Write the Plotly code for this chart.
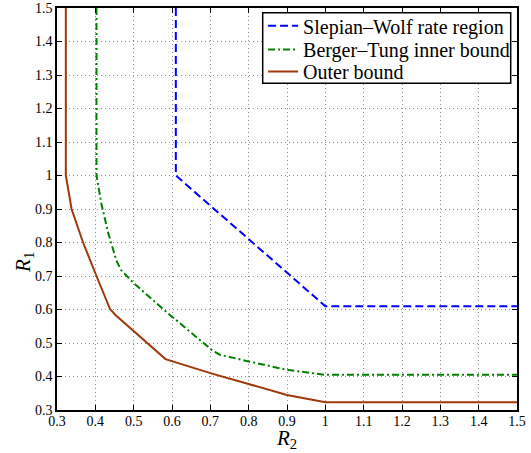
import plotly.graph_objects as go

# Slepian-Wolf rate region
sw_r2 = [0.61, 0.61, 1.0, 1.5]
sw_r1 = [1.5, 1.0, 0.61, 0.61]

# Berger-Tung inner bound
bt_r2 = [0.403, 0.403, 0.416, 0.433, 0.455, 0.467, 0.498, 0.581, 0.705, 0.725, 0.8, 0.9, 1.0, 1.5]
bt_r1 = [1.5, 1.0, 0.915, 0.831, 0.746, 0.718, 0.681, 0.597, 0.478, 0.465, 0.445, 0.42, 0.405, 0.405]

# Outer bound
ob_r2 = [0.323, 0.323, 0.338, 0.368, 0.403, 0.438, 0.451, 0.583, 0.7, 0.8, 0.9, 1.0, 1.5]
ob_r1 = [1.5, 1.0, 0.90, 0.80, 0.70, 0.602, 0.585, 0.452, 0.410, 0.377, 0.345, 0.323, 0.323]

series_names = ["Slepian\u2013Wolf rate region", "Berger\u2013Tung inner bound", "Outer bound"]

tick_vals = [0.3, 0.4, 0.5, 0.6, 0.7, 0.8, 0.9, 1.0, 1.1, 1.2, 1.3, 1.4, 1.5]
tick_text = ["0.3", "0.4", "0.5", "0.6", "0.7", "0.8", "0.9", "1", "1.1", "1.2", "1.3", "1.4", "1.5"]

FONT = "Liberation Serif"

fig = go.Figure()
fig.add_trace(go.Scatter(x=sw_r2, y=sw_r1, mode="lines", name=series_names[0], legend="legend",
                         line=dict(color="#0000ff", width=2, dash="8px,4px")))
fig.add_trace(go.Scatter(x=bt_r2, y=bt_r1, mode="lines", name=series_names[1], legend="legend2",
                         line=dict(color="#008000", width=2, dash="7px,3px,2px,3px")))
fig.add_trace(go.Scatter(x=ob_r2, y=ob_r1, mode="lines", name=series_names[2], legend="legend3",
                         line=dict(color="#a0380a", width=2)))

axis_common = dict(
    range=[0.3, 1.5], tickvals=tick_vals, ticktext=tick_text,
    showgrid=True, gridcolor="#8c8c8c", griddash="1px,3px", gridwidth=1,
    showline=True, linecolor="black", linewidth=1.5, mirror="ticks",
    ticks="inside", ticklen=5, tickcolor="black", tickwidth=1,
    zeroline=False, tickfont=dict(family=FONT, size=14, color="black"),
)
fig.update_xaxes(ticklabelstandoff=-3, **axis_common)
fig.update_yaxes(**axis_common)

# plot area: 57..517 px horizontally, 8..410 px vertically
def py(v):
    return (410.0 - v) / 402.0

leg_common = dict(x=0.448, xanchor="left", yanchor="middle", bgcolor="rgba(0,0,0,0)",
                  borderwidth=0, font=dict(family=FONT, size=20, color="black"),
                  itemwidth=30, tracegroupgap=0)

fig.update_layout(
    width=531, height=453,
    margin=dict(l=57, r=14, t=8, b=43, autoexpand=False),
    paper_bgcolor="white", plot_bgcolor="white",
    font=dict(family=FONT, color="black"),
    showlegend=True,
    legend=dict(y=py(25.7), **leg_common),
    legend2=dict(y=py(49.5), **leg_common),
    legend3=dict(y=py(71.5), **leg_common),
    shapes=[dict(type="rect", xref="paper", yref="paper",
                 x0=(262.7 - 57) / 460.0, x1=(510.7 - 57) / 460.0,
                 y0=py(83.3), y1=py(12.7),
                 line=dict(color="black", width=1.5), fillcolor="white", layer="above")],
    annotations=[
        dict(text="<i>R</i><sub>2</sub>", xref="paper", yref="paper", x=0.498, y=py(439),
             xanchor="center", yanchor="middle", showarrow=False,
             font=dict(family=FONT, size=21, color="black")),
        dict(text="<i>R</i><sub>1</sub>", xref="paper", yref="paper", x=-0.072, y=py(262),
             xanchor="center", yanchor="middle", showarrow=False, textangle=-90,
             font=dict(family=FONT, size=21, color="black")),
    ],
)

fig.write_html("out.html", config={"displayModeBar": False},
               post_script="document.body.style.margin='0';document.body.style.padding='0';")
